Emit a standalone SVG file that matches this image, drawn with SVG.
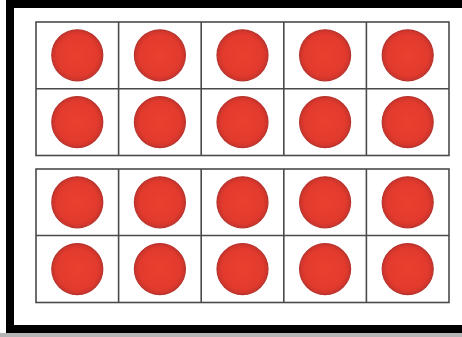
<svg xmlns="http://www.w3.org/2000/svg" width="462" height="337" viewBox="0 0 462 337">
<defs>
<style>
.grid{fill:none;stroke:#4a4a4a;stroke-width:1.6}
.dot{fill:url(#rg);stroke:#b8332c;stroke-width:1.2}
</style>
<radialGradient id="rg" cx="0.5" cy="0.5" r="0.5">
<stop offset="0" stop-color="#e8412f"/>
<stop offset="0.8" stop-color="#e23a2d"/>
<stop offset="1" stop-color="#c9342c"/>
</radialGradient>
</defs>
<rect x="0" y="0" width="462" height="337" fill="#ffffff"/>
<rect x="0" y="333" width="462" height="4" fill="#b5b5b5"/>
<g id="frame" fill="#000">
<rect x="6" y="0" width="456" height="8"/>
<rect x="6" y="0" width="8" height="333"/>
<rect x="6" y="325" width="456" height="8"/>
</g>
<g id="tenframe-top">
<rect class="grid" x="36" y="22" width="413" height="133.5"/>
<path class="grid" d="M36 88.7H449M118.6 22V155.5M201.2 22V155.5M283.8 22V155.5M366.4 22V155.5"/>
<g>
<circle class="dot" cx="77.3" cy="55.3" r="25.5"/>
<circle class="dot" cx="159.9" cy="55.3" r="25.5"/>
<circle class="dot" cx="242.5" cy="55.3" r="25.5"/>
<circle class="dot" cx="325.1" cy="55.3" r="25.5"/>
<circle class="dot" cx="407.7" cy="55.3" r="25.5"/>
<circle class="dot" cx="77.3" cy="122.1" r="25.5"/>
<circle class="dot" cx="159.9" cy="122.1" r="25.5"/>
<circle class="dot" cx="242.5" cy="122.1" r="25.5"/>
<circle class="dot" cx="325.1" cy="122.1" r="25.5"/>
<circle class="dot" cx="407.7" cy="122.1" r="25.5"/>
</g>
</g>
<g id="tenframe-bottom">
<rect class="grid" x="36" y="169" width="413" height="133.5"/>
<path class="grid" d="M36 235.5H449M118.6 169V302.5M201.2 169V302.5M283.8 169V302.5M366.4 169V302.5"/>
<g>
<circle class="dot" cx="77.3" cy="202.3" r="25.5"/>
<circle class="dot" cx="159.9" cy="202.3" r="25.5"/>
<circle class="dot" cx="242.5" cy="202.3" r="25.5"/>
<circle class="dot" cx="325.1" cy="202.3" r="25.5"/>
<circle class="dot" cx="407.7" cy="202.3" r="25.5"/>
<circle class="dot" cx="77.3" cy="269.1" r="25.5"/>
<circle class="dot" cx="159.9" cy="269.1" r="25.5"/>
<circle class="dot" cx="242.5" cy="269.1" r="25.5"/>
<circle class="dot" cx="325.1" cy="269.1" r="25.5"/>
<circle class="dot" cx="407.7" cy="269.1" r="25.5"/>
</g>
</g>
</svg>
